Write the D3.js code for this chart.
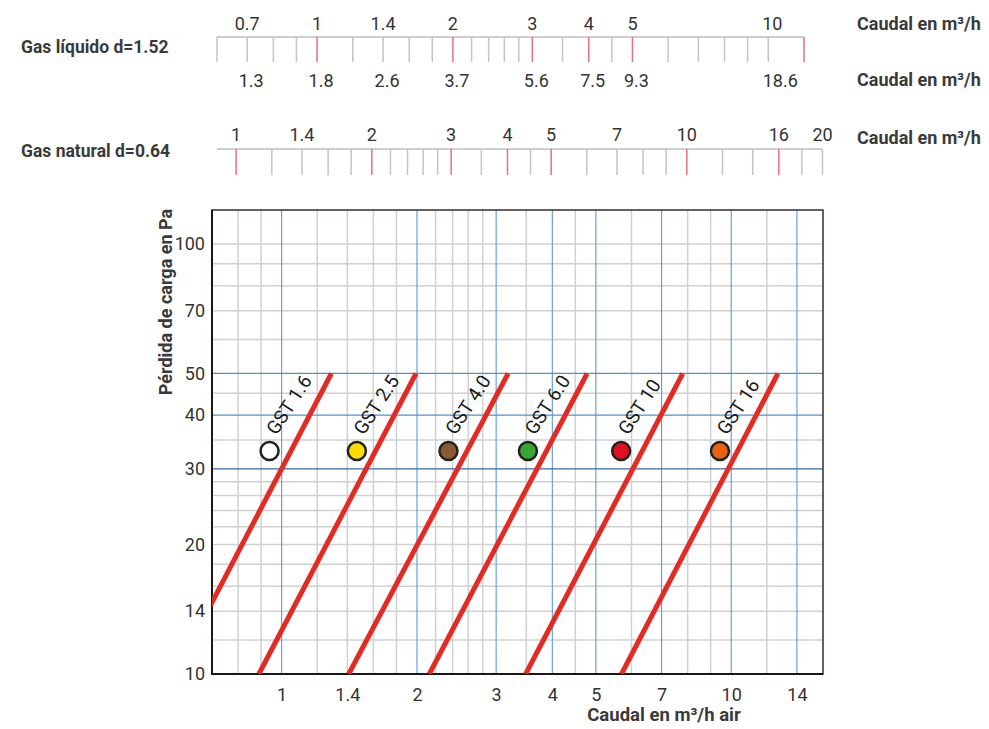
<!DOCTYPE html>
<html>
<head>
<meta charset="utf-8">
<script src="https://cdn.jsdelivr.net/npm/d3@7"></script>
<style>
  body { margin: 0; background: #fff; }
  text { font-family: Roboto, "DejaVu Sans", sans-serif; }
</style>
</head>
<body>
<div id="chart"></div>
<script>
// ---- data ----
// top scale: liquid gas (d=1.52)
const liqTicks = [0.6, 0.7, 0.8, 0.9, 1, 1.2, 1.4, 1.6, 1.8, 2, 2.2, 2.4, 2.6, 2.8, 3, 3.5, 4, 4.5, 5, 6, 7, 8, 9, 10, 12];
const liqRed = [1, 2, 3, 4, 5, 12];
const liqTopLabels = [0.7, 1, 1.4, 2, 3, 4, 5, 10];
const liqBottomLabels = ["1.3", "1.8", "2.6", "3.7", "5.6", "7.5", "9.3", "18.6"];

// second scale: natural gas (d=0.64)
const natTicks = [1, 1.2, 1.4, 1.6, 1.8, 2, 2.2, 2.4, 2.6, 2.8, 3, 3.5, 4, 4.5, 5, 6, 7, 8, 9, 10, 12, 14, 16, 18, 20];
const natRed = [1, 2, 3, 4, 5, 10, 16];
const natLabels = [1, 1.4, 2, 3, 4, 5, 7, 10, 16, 20];

// main chart grid + ticks
const xTicks = [1, 1.4, 2, 3, 4, 5, 7, 10, 14];
const xGridGray = [0.8, 0.9, 1.2, 1.4, 1.6, 1.8, 2.2, 2.4, 2.6, 2.8, 3.5, 4.5, 6, 8, 9, 12];
const xGridBlue = [1, 2, 3, 4, 5, 7, 10, 14];
const yTicks = [10, 14, 20, 30, 40, 50, 70, 100];
const yGridGray = [12, 14, 16, 18, 20, 22, 24, 26, 28, 35, 45, 60, 70, 80, 90, 100];
const yGridBlue = [30, 40, 50];

// GST regulators: flow (m3/h air) at 10 Pa and at 50 Pa
const gstNames = ["GST 1.6", "GST 2.5", "GST 4.0", "GST 6.0", "GST 10", "GST 16"];
const gstQ10 = [0.578, 0.89, 1.41, 2.13, 3.49, 5.7];
const gstQ50 = [1.29, 1.99, 3.19, 4.78, 7.8, 12.7];
const markerQ = [0.94, 1.47, 2.35, 3.53, 5.69, 9.44];
const markerP = 33;
const markerColors = ["#ffffff", "#fddc06", "#8b5a32", "#38a637", "#e0101e", "#e8620f"];

const W = 989, H = 729;
const textCol = "#333";

const svg = d3.select("#chart").append("svg")
  .attr("width", W)
  .attr("height", H);

// scales
const x = d3.scaleLog().domain([0.7, 16]).range([212, 823]);
const y = d3.scaleLog().domain([10, 120]).range([674, 210]);
const xLiq = d3.scaleLog().domain([0.6, 12]).range([217, 804]);
const xNat = d3.scaleLog().domain([0.9, 20]).range([215.5, 822.5]);

// ---- top scales ----
function drawScale(scale, lineY, ticks, reds, tickLen, noStartTick) {
  const g = svg.append("g");
  g.append("line")
    .attr("x1", noStartTick ? 217 : scale.range()[0]).attr("x2", scale.range()[1])
    .attr("y1", lineY).attr("y2", lineY)
    .attr("stroke", "#bdbdbd").attr("stroke-width", 1.5);
  g.selectAll(".tk")
    .data(ticks)
    .enter().append("line")
    .attr("x1", d => scale(d)).attr("x2", d => scale(d))
    .attr("y1", lineY).attr("y2", lineY + tickLen)
    .attr("stroke", d => reds.includes(d) ? "#e8707b" : "#c4c4c4")
    .attr("stroke-width", 1.5);
  return g;
}

const gLiq = drawScale(xLiq, 37, liqTicks, liqRed, 25, false);
gLiq.selectAll(".top")
  .data(liqTopLabels)
  .enter().append("text")
  .attr("x", d => xLiq(d) + (d === 10 ? 4 : 0))
  .attr("y", 30)
  .attr("text-anchor", "middle")
  .attr("font-size", 18)
  .attr("fill", textCol)
  .text(d => d);
gLiq.selectAll(".bot")
  .data(liqBottomLabels)
  .enter().append("text")
  .attr("x", (d, i) => xLiq(liqTopLabels[i]) + (d.length > 3 ? 12 : 4))
  .attr("y", 87)
  .attr("text-anchor", "middle")
  .attr("font-size", 18)
  .attr("fill", textCol)
  .text(d => d);

const gNat = drawScale(xNat, 149, natTicks, natRed, 26, true);
gNat.selectAll(".top")
  .data(natLabels)
  .enter().append("text")
  .attr("x", d => xNat(d))
  .attr("y", 141)
  .attr("text-anchor", "middle")
  .attr("font-size", 18)
  .attr("fill", textCol)
  .text(d => d);

// side labels
const sideLabels = [
  { t: "Gas líquido d=1.52", x: 21, y: 53 },
  { t: "Gas natural d=0.64", x: 21, y: 157 }
];
svg.selectAll(".side")
  .data(sideLabels)
  .enter().append("text")
  .attr("x", d => d.x).attr("y", d => d.y)
  .attr("font-size", 17.5).attr("font-weight", "bold")
  .attr("fill", "#3a3a3a")
  .text(d => d.t);

[30, 86, 144].forEach(yy => {
  svg.append("text")
    .attr("x", 857).attr("y", yy)
    .attr("font-size", 18).attr("font-weight", "bold")
    .attr("fill", "#3a3a3a")
    .text("Caudal en m³/h");
});

// ---- main chart ----
const [x0, x1] = x.range();
const [yb, yt] = y.range();

// gray grid
svg.append("g").selectAll("line")
  .data(xGridGray)
  .enter().append("line")
  .attr("x1", d => x(d)).attr("x2", d => x(d))
  .attr("y1", yt).attr("y2", yb)
  .attr("stroke", "#d0d0d0").attr("stroke-width", 1.5);
svg.append("g").selectAll("line")
  .data(yGridGray)
  .enter().append("line")
  .attr("x1", x0).attr("x2", x1)
  .attr("y1", d => y(d)).attr("y2", d => y(d))
  .attr("stroke", "#d0d0d0").attr("stroke-width", 1.5);

// blue grid
svg.append("g").selectAll("line")
  .data(xGridBlue)
  .enter().append("line")
  .attr("x1", d => x(d)).attr("x2", d => x(d))
  .attr("y1", yt).attr("y2", yb)
  .attr("stroke", "#5b9bd8").attr("stroke-width", 1.1);
svg.append("g").selectAll("line")
  .data(yGridBlue)
  .enter().append("line")
  .attr("x1", x0).attr("x2", x1)
  .attr("y1", d => y(d)).attr("y2", d => y(d))
  .attr("stroke", d => d === 30 ? "#2f6aa8" : "#4f8fd0").attr("stroke-width", 1.2);

// frame
svg.append("rect")
  .attr("x", x0).attr("y", yt)
  .attr("width", x1 - x0).attr("height", yb - yt)
  .attr("fill", "none").attr("stroke", "#3a2a2a").attr("stroke-width", 1.5);
svg.append("path")
  .attr("d", `M${x0},${yt}V${yb}H${x1}`)
  .attr("fill", "none").attr("stroke", "#1e1515").attr("stroke-width", 2);

// axes
svg.append("g")
  .attr("transform", `translate(0,${yb})`)
  .call(d3.axisBottom(x).tickValues(xTicks).tickFormat(d => d).tickSize(0).tickPadding(14))
  .call(g => g.select(".domain").remove())
  .call(g => g.selectAll("text").attr("font-size", 18).attr("font-family", "Roboto, sans-serif").attr("fill", textCol));

svg.append("g")
  .attr("transform", `translate(${x0},0)`)
  .call(d3.axisLeft(y).tickValues(yTicks).tickFormat(d => d).tickSize(0).tickPadding(7))
  .call(g => g.select(".domain").remove())
  .call(g => g.selectAll("text").attr("font-size", 18).attr("font-family", "Roboto, sans-serif").attr("fill", textCol));

// axis titles
svg.append("text")
  .attr("x", 664).attr("y", 721)
  .attr("text-anchor", "middle")
  .attr("font-size", 18.5).attr("font-weight", "bold")
  .attr("fill", "#3a3a3a")
  .text("Caudal en m³/h air");

svg.append("text")
  .attr("transform", "translate(172,302) rotate(-90)")
  .attr("text-anchor", "middle")
  .attr("font-size", 18).attr("font-weight", "bold")
  .attr("fill", "#3a3a3a")
  .text("Pérdida de carga en Pa");

// clip for the regulator lines
svg.append("clipPath").attr("id", "plotClip")
  .append("rect")
  .attr("x", x0).attr("y", yt)
  .attr("width", x1 - x0).attr("height", yb - yt);

const gst = gstNames.map((name, i) => ({
  name,
  pts: [{ q: gstQ10[i], p: 10 }, { q: gstQ50[i], p: 50 }],
  mq: markerQ[i],
  color: markerColors[i]
}));

const line = d3.line().x(d => x(d.q)).y(d => y(d.p));

svg.append("g")
  .attr("clip-path", "url(#plotClip)")
  .selectAll("path")
  .data(gst)
  .enter().append("path")
  .attr("d", d => line(d.pts))
  .attr("fill", "none")
  .attr("stroke", "#e32b24")
  .attr("stroke-width", 5);

svg.append("g").selectAll("circle")
  .data(gst)
  .enter().append("circle")
  .attr("cx", d => x(d.mq))
  .attr("cy", y(markerP))
  .attr("r", 9)
  .attr("fill", d => d.color)
  .attr("stroke", "#222")
  .attr("stroke-width", 2.5);

svg.append("g").selectAll("text")
  .data(gst)
  .enter().append("text")
  .attr("transform", d => `translate(${x(d.mq) + 7},${y(markerP) - 15}) rotate(-57)`)
  .attr("font-size", 19)
  .attr("fill", "#1a1a1a")
  .text(d => d.name);
</script>
</body>
</html>
